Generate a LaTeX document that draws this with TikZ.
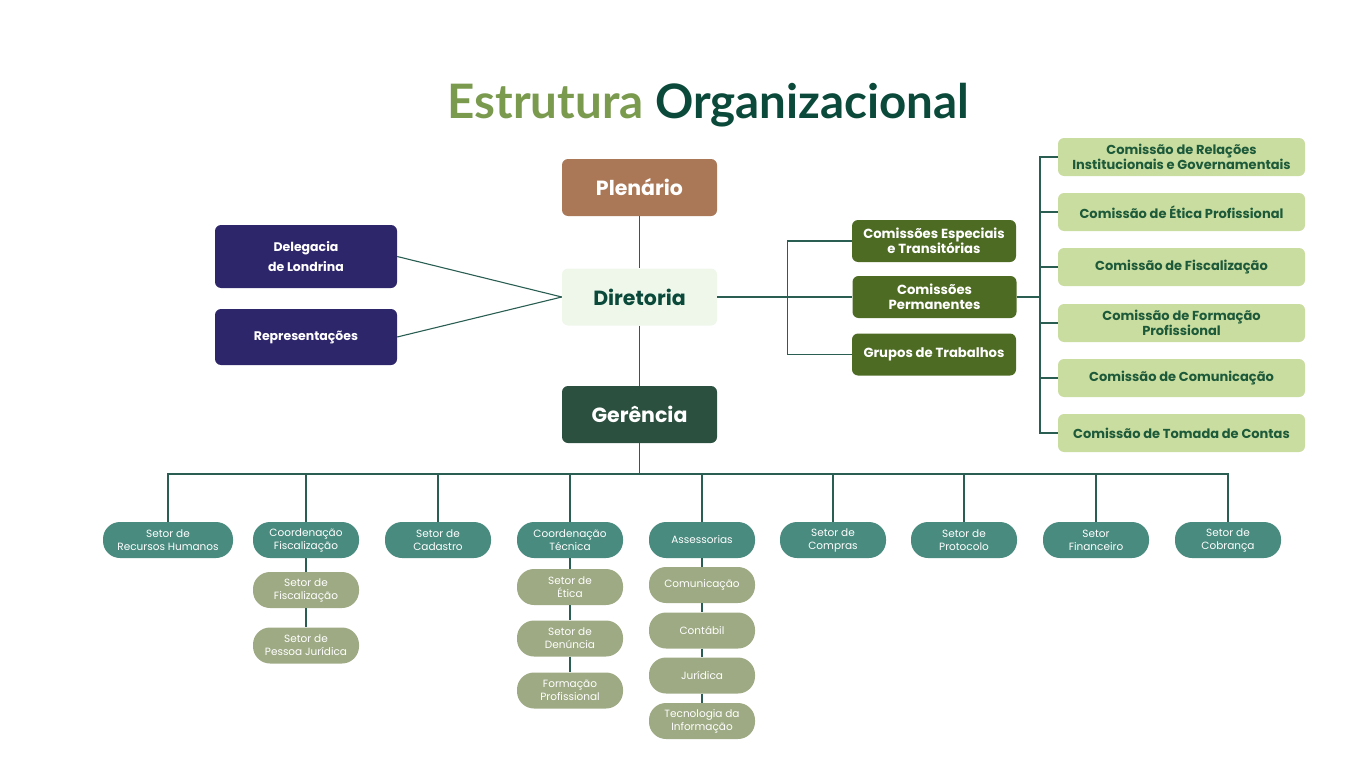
\documentclass[tikz,border=0pt]{standalone}
\usepackage{fontspec}
\setmainfont{Poppins}
\newfontfamily\titlefont{Lato}
\usepackage{xcolor}
\usetikzlibrary{positioning}
\definecolor{titlelight}{HTML}{7A9A4E}
\definecolor{titledark}{HTML}{0B4A3A}
\definecolor{linecol}{HTML}{2A5E52}
\definecolor{plencol}{HTML}{AA7857}
\definecolor{dircol}{HTML}{EEF7EA}
\definecolor{gercol}{HTML}{2C5040}
\definecolor{navy}{HTML}{2E266B}
\definecolor{olive}{HTML}{4E6B23}
\definecolor{paleg}{HTML}{CADDA0}
\definecolor{comtext}{HTML}{1D5A3A}
\definecolor{teal}{HTML}{4A8B7F}
\definecolor{sage}{HTML}{9EAA84}

\begin{document}
\begin{tikzpicture}[
  x=1pt, y=-1pt,
  link/.style={draw=linecol, line width=1.1pt},
  head/.style={rounded corners=6pt, minimum width=155pt, minimum height=57pt,
               inner sep=0pt, font=\bfseries\fontsize{20.5}{24}\selectfont},
  side/.style={fill=navy, rounded corners=6pt, minimum width=182pt, text=white,
               align=center, inner sep=0pt, font=\bfseries\fontsize{12.5}{20}\selectfont},
  grp/.style={fill=olive, rounded corners=6pt, minimum width=164pt, minimum height=42pt,
              text=white, align=center, inner sep=0pt, font=\bfseries\fontsize{13.2}{15.5}\selectfont},
  comm/.style={fill=paleg, rounded corners=6pt, minimum width=247pt, minimum height=38pt,
               text=comtext, align=center, inner sep=0pt, font=\bfseries\fontsize{13}{15}\selectfont},
  sector/.style={fill=teal, rounded corners=17pt, minimum width=106pt, minimum height=36pt,
                 text=white, align=center, inner sep=0pt, font=\fontsize{10.5}{13}\selectfont},
  subsector/.style={sector, fill=sage},
]
\useasboundingbox (0,0) rectangle (1366,768);

% === Title ===
\node[font=\titlefont\bfseries\fontsize{47.5}{52}\selectfont] (title) at (708.5,105)
  {\textcolor{titlelight}{Estrutura} \textcolor{titledark}{Organizacional}};

% === Centre column ===
\node[head, fill=plencol, text=white] (plen) at (639.5,187.5) {Plen\'ario};
\node[head, fill=dircol, text=titledark] (dir) at (639.5,297) {Diretoria};
\node[head, fill=gercol, text=white] (ger) at (639.5,414.5) {Ger\^encia};

\draw[link] (plen.south) -- (dir.north);
\draw[link] (dir.south) -- (ger.north);

% === Left side ===
\node[side, minimum height=63pt] (deleg) at (306,256.5) {Delegacia\\de Londrina};
\node[side, minimum height=56pt] (repr) at (306,337) {Representa\c{c}\~oes};

\draw[link] (deleg.east) -- (dir.west);
\draw[link] (repr.east) -- (dir.west);

% === Right side: commissions ===
\node[grp] (esp) at (934,241) {Comiss\~oes Especiais\\e Transit\'orias};
\node[grp] (perm) at (934.5,297) {Comiss\~oes\\Permanentes};
\node[grp] (gtrab) at (934,354.5) {Grupos de Trabalhos};

\draw[link] (dir.east) -- (perm.west);
\draw[link] (esp.west) -- ++(-64,0) |- (gtrab.west);

\coordinate (busR) at (1040,297);
\draw[link] (perm.east) -- (busR);

\foreach \y/\name/\txt in {
  157/crel/{Comiss\~ao de Rela\c{c}\~oes\\Institucionais e Governamentais},
  212/ceti/{Comiss\~ao de \'Etica Profissional},
  267/cfisc/{Comiss\~ao de Fiscaliza\c{c}\~ao},
  323/cform/{Comiss\~ao de Forma\c{c}\~ao\\Profissional},
  378/ccom/{Comiss\~ao de Comunica\c{c}\~ao},
  433/ctom/{Comiss\~ao de Tomada de Contas}} {
  \node[comm] (\name) at (1181.5,\y) {\txt};
  \draw[link] (busR) |- (\name.west);
}

% === Bottom: sectors ===
\coordinate (busB) at (639.5,474);
\draw[link] (ger.south) -- (busB);

\foreach \x/\name/\boxw/\txt in {
  168/srh/130/{Setor de\\Recursos Humanos},
  306/cfis/106/{Coordena\c{c}\~ao\\Fiscaliza\c{c}\~ao},
  438/scad/106/{Setor de\\Cadastro},
  570/ctec/106/{Coordena\c{c}\~ao\\T\'ecnica},
  702/asse/106/{Assessorias},
  833/scomp/106/{Setor de\\Compras},
  964/sprot/106/{Setor de\\Protocolo},
  1096/sfin/106/{Setor\\Financeiro},
  1228/scob/106/{Setor de\\Cobran\c{c}a}} {
  \node[sector, minimum width=\boxw pt] (\name) at (\x,540) {\txt};
  \draw[link] (busB) -| (\name.north);
}

% sub-sectors
\node[subsector] (sfisc) at (306,590) {Setor de\\Fiscaliza\c{c}\~ao};
\node[subsector] (spj) at (306,645.5) {Setor de\\Pessoa Jur\'idica};
\draw[link] (cfis.south) -- (sfisc.north);
\draw[link] (sfisc.south) -- (spj.north);

\node[subsector] (seti) at (570,587) {Setor de\\\'Etica};
\node[subsector] (sden) at (570,638.5) {Setor de\\Den\'uncia};
\node[subsector] (sform) at (570,690.5) {Forma\c{c}\~ao\\Profissional};
\draw[link] (ctec.south) -- (seti.north);
\draw[link] (seti.south) -- (sden.north);
\draw[link] (sden.south) -- (sform.north);

\node[subsector] (acom) at (702,585) {Comunica\c{c}\~ao};
\node[subsector] (acont) at (702,630.5) {Cont\'abil};
\node[subsector] (ajur) at (702,675.5) {Jur\'idica};
\node[subsector] (atec) at (702,721) {Tecnologia da\\Informa\c{c}\~ao};
\draw[link] (asse.south) -- (acom.north);
\draw[link] (acom.south) -- (acont.north);
\draw[link] (acont.south) -- (ajur.north);
\draw[link] (ajur.south) -- (atec.north);

\end{tikzpicture}
\end{document}
